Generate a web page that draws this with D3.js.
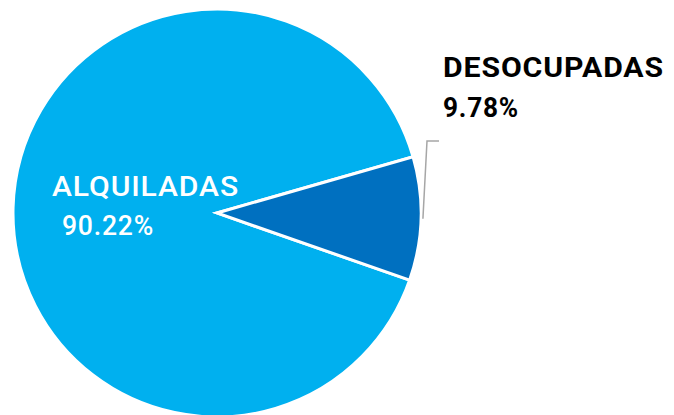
<!DOCTYPE html>
<html>
<head>
<meta charset="utf-8">
<style>
  body { margin: 0; background: #fff; }
  text { font-family: Roboto, 'Noto Sans', sans-serif; }
</style>
</head>
<body>
<div id="chart"></div>
<script src="https://d3js.org/d3.v7.min.js"></script>
<script>
// data
var categories = ["ALQUILADAS", "DESOCUPADAS"];
var values = [90.22, 9.78];
var labels = ["90.22%", "9.78%"];
var colors = ["#00b0ef", "#0070c0"];

var width = 674, height = 415;
var cx = 217, cy = 213, radius = 204;

var svg = d3.select("#chart").append("svg")
  .attr("width", width)
  .attr("height", height);

var g = svg.append("g").attr("transform", "translate(" + cx + "," + cy + ")");

var start = 109.2 * Math.PI / 180;
var pie = d3.pie().sort(null)
  .startAngle(start)
  .endAngle(start + 2 * Math.PI);

var arc = d3.arc().innerRadius(0).outerRadius(radius);

var slices = pie(values);

g.selectAll("path")
  .data(slices)
  .enter()
  .append("path")
    .attr("d", arc)
    .attr("fill", function(d, i) { return colors[i]; })
    .attr("stroke", "#fff")
    .attr("stroke-width", 3)
    .attr("stroke-linejoin", "miter");

// leader line for the small slice
var s = slices[1];
var mid = (s.startAngle + s.endAngle) / 2;
var p0 = [Math.sin(mid) * (radius + 2) + cx, -Math.cos(mid) * (radius + 2) + cy];
svg.append("polyline")
  .attr("points", [p0, [427, 141], [439, 141]].map(function(p) { return p.join(","); }).join(" "))
  .attr("fill", "none")
  .attr("stroke", "#a6a6a6")
  .attr("stroke-width", 1.5);

// labels
function label(x, y, txt, len, fill, weight) {
  svg.append("text")
    .attr("x", x).attr("y", y)
    .attr("fill", fill)
    .attr("font-size", 27)
    .attr("font-weight", weight)
    .attr("letter-spacing", 0.8)
    .attr("textLength", len)
    .attr("lengthAdjust", "spacingAndGlyphs")
    .text(txt);
}
label(52, 196, categories[0], 187, "#fff", 500);
label(62, 235, labels[0], 92, "#fff", 500);
label(443, 77, categories[1], 221, "#000", 700);
label(443, 117, labels[1], 76, "#000", 700);
</script>
</body>
</html>
